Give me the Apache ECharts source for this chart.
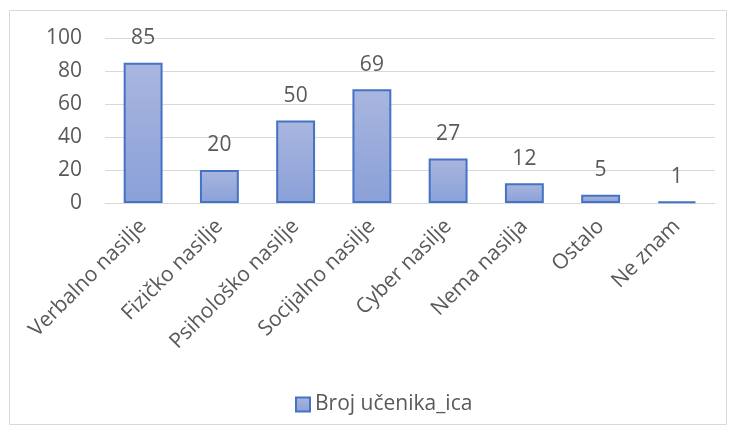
<!DOCTYPE html>
<html><head><meta charset="utf-8">
<script src="https://cdn.jsdelivr.net/npm/echarts@6/dist/echarts.min.js"></script>
<style>html,body{margin:0;padding:0;background:#fff}#c{width:735px;height:433px}</style>
</head><body><div id="c"></div>
<script>
const categories = ["Verbalno nasilje","Fizičko nasilje","Psihološko nasilje","Socijalno nasilje","Cyber nasilje","Nema nasilja","Ostalo","Ne znam"];
const values = [85,20,50,69,27,12,5,1];
const seriesName = "Broj učenika_ica";
const FONT = "'Open Sans', sans-serif";
const chart = echarts.init(document.getElementById('c'));
chart.setOption({
  animation:false,
  graphic:[{type:'rect',shape:{x:9.5,y:10.5,width:717,height:414},style:{fill:'none',stroke:'#d9d9d9',lineWidth:1},silent:true}],
  grid:{left:105,right:20,top:38,bottom:230},
  legend:{top:389,left:290,itemWidth:14,itemHeight:14,itemGap:6,
    textStyle:{fontFamily:FONT,fontSize:21,color:'#595959',padding:[0,0,0,0]},
    data:[{name:seriesName,icon:'rect'}]},
  xAxis:{type:'category',data:categories,
    axisLine:{lineStyle:{color:'#d9d9d9',width:1}},axisTick:{show:false},
    axisLabel:{rotate:45,interval:0,fontFamily:FONT,fontSize:21,color:'#595959',margin:20}},
  yAxis:{type:'value',min:0,max:100,interval:20,
    axisLine:{show:false},axisTick:{show:false},
    splitLine:{lineStyle:{color:'#d9d9d9',width:1}},
    axisLabel:{fontFamily:FONT,fontSize:21,color:'#595959',margin:23}},
  series:[{type:'bar',name:seriesName,data:values,barWidth:'51%',
    itemStyle:{color:new echarts.graphic.LinearGradient(0,0,0,1,[{offset:0,color:'#a9b6df'},{offset:1,color:'#8aa0d8'}]),
      borderColor:'#4472c4',borderWidth:2},
    label:{show:true,position:'top',distance:14,fontFamily:FONT,fontSize:21,color:'#595959'}}]
});
</script></body></html>
